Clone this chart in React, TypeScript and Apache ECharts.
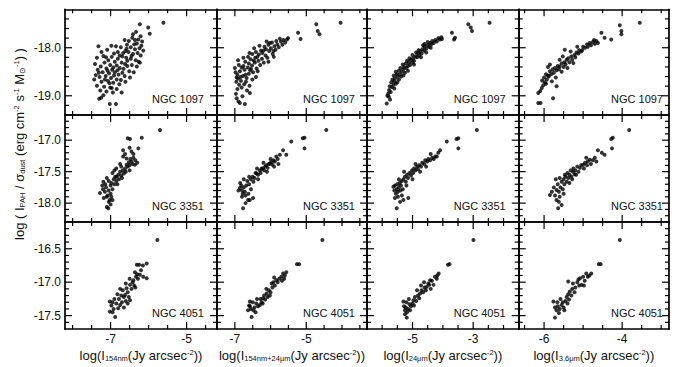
import React, { useEffect, useRef } from 'react';
import * as echarts from 'echarts';

// ---------- data (x = log I_band, y = log(I_PAH/sigma_dust)) ----------
const galaxies = ['NGC 1097', 'NGC 3351', 'NGC 4051'];

const n1097_fuv: number[][] = [
  [-5.61,-17.48],[-6.01,-17.58],[-5.97,-17.71],[-6.23,-17.51],
  [-6.33,-17.67],[-6.21,-17.76],[-6.27,-17.83],[-6.17,-17.87],[-6.43,-17.79],[-6.31,-17.91],[-6.19,-17.96],[-6.38,-17.93],[-6.52,-17.86],[-6.24,-18.01],[-6.14,-18.06],[-6.36,-18.03],[-6.47,-17.99],[-6.57,-17.94],[-6.61,-18.07],[-6.29,-18.11],[-6.41,-18.13],[-6.53,-18.09],[-6.67,-18.11],[-6.21,-18.16],[-6.73,-17.99],[-6.86,-17.97],[-6.91,-18.12],[-6.76,-18.16],[-6.59,-18.21],[-6.47,-18.23],[-6.34,-18.26],[-6.26,-18.29],[-6.81,-18.23],[-6.97,-18.19],[-7.06,-18.26],[-7.16,-18.31],[-6.89,-18.29],[-6.71,-18.31],[-6.62,-18.34],[-6.44,-18.36],[-6.31,-18.39],[-7.01,-18.36],[-6.84,-18.37],[-6.76,-18.42],[-7.11,-18.43],[-7.26,-18.39],[-6.96,-18.46],[-6.66,-18.44],[-6.51,-18.49],[-6.39,-18.51],[-7.34,-18.46],[-7.21,-18.51],[-7.04,-18.53],[-6.89,-18.51],[-6.79,-18.56],[-6.63,-18.59],[-6.49,-18.62],[-7.39,-18.57],[-7.29,-18.61],[-7.13,-18.59],[-6.99,-18.63],[-6.84,-18.66],[-6.73,-18.67],[-7.43,-18.66],[-7.24,-18.71],[-7.07,-18.69],[-6.93,-18.73],[-6.77,-18.76],[-6.61,-18.71],[-7.36,-18.79],[-7.17,-18.81],[-7.01,-18.83],[-6.84,-18.86],[-7.27,-18.89],[-7.11,-18.91],[-6.94,-18.93],[-6.71,-18.93],[-7.19,-18.99],[-7.3,-19.06],[-7.25,-19.04],[-7.02,-19.17],[-6.86,-19.17],[-7.41,-18.34],[-7.36,-18.21],[-7.24,-18.09],[-7.09,-18.04],[-6.98,-17.96],[-7.32,-17.97],[-7.19,-18.17],[-6.63,-17.84],[-6.41,-17.72],[-6.56,-18.38],[-6.97,-18.84],[-6.23,-18.31],
  [-7.08,-18.48],[-6.93,-18.41],[-6.82,-18.47],[-6.69,-18.52],[-7.15,-18.66],[-6.91,-18.58],[-6.56,-18.27],[-6.69,-18.18],[-6.45,-18.17],[-6.81,-18.09],[-7.03,-18.74],[-7.31,-18.52],[-6.58,-18.02],[-6.36,-17.84],[-7.12,-18.2]
];
const n1097_fuv24: number[][] = [
  [-6.95,-19.05],[-6.86,-19.15],[-6.72,-19.17],[-6.58,-18.94],[-6.97,-18.96],[-6.93,-18.86],[-6.88,-18.77],[-6.96,-18.71],[-6.81,-18.83],[-6.74,-18.76],[-6.91,-18.64],[-6.83,-18.69],[-6.69,-18.71],[-7.0,-18.42],[-6.98,-18.51],[-6.93,-18.56],[-6.86,-18.49],[-6.77,-18.59],[-6.67,-18.63],[-6.61,-18.54],[-6.73,-18.46],[-6.81,-18.41],[-6.89,-18.36],[-6.64,-18.41],[-6.57,-18.47],[-6.52,-18.37],[-6.61,-18.33],[-6.71,-18.29],[-6.49,-18.51],[-6.44,-18.31],[-6.39,-18.43],[-6.34,-18.27],[-6.29,-18.36],[-6.43,-18.21],[-6.56,-18.24],[-6.63,-18.19],[-6.24,-18.23],[-6.19,-18.31],[-6.14,-18.16],[-6.33,-18.14],[-6.41,-18.09],[-6.51,-18.13],[-6.23,-18.11],[-6.09,-18.21],[-6.04,-18.07],[-6.13,-18.03],[-6.27,-18.06],[-5.99,-18.01],[-5.94,-18.13],[-5.89,-17.97],[-6.06,-17.94],[-6.17,-17.98],[-5.86,-18.04],[-5.81,-17.93],[-5.96,-17.89],[-5.77,-17.99],[-5.71,-17.87],[-5.67,-17.94],[-5.84,-17.86],[-5.64,-17.84],[-5.59,-17.89],[-5.54,-17.83],[-5.74,-17.81],[-6.11,-17.87],[-6.31,-17.96],[-6.46,-18.01],[-6.59,-18.11],[-6.76,-18.21],[-6.91,-18.26],[-6.06,-18.29],[-5.91,-18.19],[-6.36,-18.49],[-6.51,-18.66],[-6.59,-18.79],[-6.66,-18.89],[-6.79,-19.01],[-6.41,-18.61],[-6.9,-19.12],
  [-6.84,-18.61],[-6.7,-18.56],[-6.55,-18.44],[-6.47,-18.27],[-6.37,-18.19],[-6.2,-18.06],[-6.02,-17.9],[-5.92,-18.07],[-6.76,-18.38],[-6.95,-18.62],
  [-5.51,-17.8],[-5.23,-17.69],[-5.16,-17.82],[-4.72,-17.51],[-4.68,-17.65],[-4.63,-17.72],[-4.04,-17.48]
];
const n1097_24: number[][] = [
  [-5.85,-19.16],[-5.74,-19.08],[-5.8,-18.95],[-5.83,-19.0],[-5.77,-18.88],[-5.72,-18.92],[-5.68,-18.82],[-5.63,-18.77],[-5.7,-18.72],[-5.6,-18.7],[-5.55,-18.75],[-5.58,-18.64],[-5.5,-18.6],[-5.45,-18.66],[-5.52,-18.55],[-5.42,-18.55],[-5.38,-18.6],[-5.35,-18.5],[-5.45,-18.48],[-5.3,-18.45],[-5.25,-18.52],[-5.28,-18.4],[-5.2,-18.42],[-5.15,-18.38],[-5.22,-18.33],[-5.12,-18.3],[-5.08,-18.36],[-5.05,-18.25],[-5.0,-18.3],[-4.98,-18.22],[-4.95,-18.27],[-4.9,-18.18],[-5.1,-18.22],[-4.85,-18.2],[-4.82,-18.12],[-4.78,-18.16],[-4.75,-18.08],[-4.7,-18.12],[-4.68,-18.03],[-4.62,-18.06],[-4.6,-17.98],[-4.55,-18.02],[-4.5,-17.95],[-4.45,-17.98],[-4.42,-17.9],[-4.38,-17.93],[-4.35,-17.86],[-4.3,-17.9],[-4.25,-17.84],[-4.2,-17.87],[-4.15,-17.8],[-4.1,-17.83],[-4.05,-17.78],[-4.03,-17.82],[-4.5,-17.88],[-4.65,-17.95],[-4.8,-18.05],[-4.88,-18.1],[-5.0,-18.15],[-5.18,-18.27],[-5.32,-18.35],[-5.4,-18.42],[-5.55,-18.5],[-5.62,-18.58],[-5.66,-18.66],[-5.75,-18.8],[-5.78,-19.02],[-5.6,-18.85],[-5.5,-18.72],[-5.3,-18.58],[-5.15,-18.48],[-4.95,-18.35],[-4.72,-18.2],[-4.55,-18.1],[-4.4,-18.0],[-4.6,-17.92],
  [-3.7,-17.69],[-3.6,-17.79],[-3.63,-17.83],[-3.16,-17.51],[-3.08,-17.58],[-3.04,-17.65],[-2.46,-17.48]
];
const n1097_36: number[][] = [
  [-6.15,-19.15],[-6.09,-19.15],[-6.15,-18.94],[-6.06,-18.84],[-6.1,-18.9],[-6.02,-18.78],[-5.98,-18.72],[-5.93,-18.66],[-6.0,-18.62],[-5.9,-18.58],[-5.95,-18.55],[-5.85,-18.49],[-5.88,-18.6],[-5.82,-18.55],[-5.78,-18.45],[-5.75,-18.52],[-5.72,-18.42],[-5.68,-18.47],[-5.65,-18.38],[-5.6,-18.39],[-5.62,-18.45],[-5.55,-18.33],[-5.5,-18.4],[-5.48,-18.3],[-5.42,-18.25],[-5.45,-18.35],[-5.38,-18.22],[-5.35,-18.3],[-5.3,-18.18],[-5.28,-18.25],[-5.22,-18.15],[-5.17,-18.1],[-5.2,-18.2],[-5.12,-18.12],[-5.1,-18.05],[-5.05,-18.08],[-5.0,-17.98],[-5.02,-18.05],[-4.95,-18.0],[-4.9,-17.93],[-4.88,-17.98],[-4.83,-17.9],[-4.8,-17.95],[-4.75,-17.88],[-4.7,-17.92],[-4.66,-17.86],[-4.62,-17.9],[-4.72,-17.84],[-5.47,-18.04],[-5.77,-19.05],[-5.68,-18.8],[-5.8,-18.7],[-5.7,-18.62],[-5.55,-18.5],[-5.4,-18.42],[-5.25,-18.32],[-5.9,-18.4],[-5.6,-18.25],[-5.15,-17.98],[-5.32,-18.08],[-5.52,-18.18],[-5.95,-18.75],[-6.05,-18.68],[-5.85,-18.35],
  [-4.53,-17.69],[-4.45,-17.79],[-4.28,-17.83],[-4.06,-17.53],[-4.02,-17.65],[-4.02,-17.72],[-3.55,-17.48]
];

const n3351_fuv: number[][] = [
  [-7.28,-17.84],[-7.1,-18.06],[-7.06,-18.08],[-7.02,-17.95],[-7.19,-17.66],[-7.2,-17.78],[-7.15,-17.82],[-7.12,-17.75],[-7.08,-17.88],[-7.05,-17.8],[-7.0,-17.85],[-7.1,-17.9],[-7.18,-17.92],[-7.0,-17.72],[-6.95,-17.78],[-6.98,-17.68],[-6.92,-17.62],[-6.9,-17.7],[-7.05,-17.65],[-6.88,-17.58],[-6.84,-17.58],[-6.85,-17.65],[-6.8,-17.55],[-6.78,-17.62],[-6.75,-17.5],[-6.72,-17.56],[-6.7,-17.6],[-6.68,-17.48],[-6.65,-17.53],[-6.62,-17.45],[-6.6,-17.5],[-6.58,-17.39],[-6.58,-17.29],[-6.55,-17.42],[-6.52,-17.35],[-6.5,-17.4],[-6.48,-17.3],[-6.45,-17.34],[-6.42,-17.38],[-6.4,-17.28],[-6.36,-17.39],[-6.35,-17.32],[-6.67,-17.26],[-6.67,-17.16],[-6.62,-17.22],[-6.3,-17.36],[-6.27,-17.13],[-6.49,-16.98],[-6.55,-16.97],[-6.18,-16.96],[-5.7,-16.84],[-6.95,-17.52],[-6.82,-17.7],[-6.72,-17.42],[-6.9,-17.48],[-7.14,-17.7],[-6.98,-17.9],[-7.22,-17.72],[-6.85,-17.45],[-6.5,-17.48],[-6.4,-17.22],[-7.1,-17.6],[-7.05,-17.98],[-7.0,-18.02],[-6.95,-17.95],[-6.75,-17.38],[-6.5,-17.12],[-6.45,-17.18]
];
const n3351_fuv24: number[][] = [
  [-6.86,-17.76],[-6.82,-17.72],[-6.8,-17.8],[-6.78,-17.85],[-6.75,-17.75],[-6.72,-17.82],[-6.7,-17.88],[-6.68,-17.72],[-6.85,-17.68],[-6.9,-17.8],[-6.77,-18.08],[-6.63,-17.95],[-6.58,-17.95],[-6.49,-17.92],[-6.7,-18.0],[-6.65,-17.65],[-6.6,-17.7],[-6.55,-17.62],[-6.5,-17.58],[-6.45,-17.6],[-6.42,-17.52],[-6.39,-17.53],[-6.35,-17.55],[-6.3,-17.48],[-6.28,-17.52],[-6.25,-17.45],[-6.21,-17.45],[-6.18,-17.48],[-6.15,-17.42],[-6.12,-17.4],[-6.08,-17.44],[-6.05,-17.38],[-6.02,-17.37],[-5.98,-17.35],[-5.95,-17.39],[-5.92,-17.32],[-5.88,-17.34],[-5.84,-17.26],[-5.8,-17.3],[-5.74,-17.23],[-5.65,-17.16],[-5.56,-17.23],[-5.42,-17.02],[-5.05,-16.96],[-5.1,-16.97],[-5.05,-17.13],[-4.44,-16.84],[-6.6,-17.58],[-6.48,-17.66],[-6.38,-17.45],[-6.2,-17.36],[-6.1,-17.5],[-6.0,-17.3],[-6.55,-17.78],[-6.62,-17.85],[-6.75,-17.62],[-6.8,-17.9],[-6.35,-17.62],[-5.9,-17.42],[-5.78,-17.38]
];
const n3351_24: number[][] = [
  [-5.63,-17.74],[-5.6,-17.8],[-5.58,-17.72],[-5.55,-17.85],[-5.52,-17.78],[-5.5,-17.7],[-5.48,-17.82],[-5.45,-17.75],[-5.42,-17.68],[-5.4,-17.8],[-5.38,-17.72],[-5.35,-17.65],[-5.32,-17.78],[-5.52,-18.08],[-5.41,-17.98],[-5.3,-17.95],[-5.14,-17.92],[-5.3,-17.62],[-5.25,-17.58],[-5.22,-17.66],[-5.18,-17.55],[-5.15,-17.6],[-5.1,-17.52],[-5.05,-17.56],[-5.02,-17.48],[-4.98,-17.52],[-4.95,-17.45],[-4.9,-17.48],[-4.85,-17.42],[-4.82,-17.46],[-4.78,-17.4],[-4.72,-17.42],[-4.68,-17.36],[-4.62,-17.38],[-4.58,-17.32],[-4.52,-17.34],[-4.48,-17.3],[-4.42,-17.32],[-4.35,-17.28],[-4.3,-17.3],[-4.25,-17.26],[-4.2,-17.26],[-4.09,-17.16],[-4.15,-17.2],[-3.87,-17.02],[-3.49,-16.97],[-3.55,-16.98],[-3.49,-17.13],[-2.88,-16.84],[-5.45,-17.62],[-5.35,-17.88],[-5.2,-17.72],[-5.0,-17.62],[-4.9,-17.38],[-4.75,-17.5],[-4.55,-17.42],[-5.58,-17.92],[-5.48,-17.9],[-5.28,-17.5],[-4.4,-17.22]
];
const n3351_36: number[][] = [
  [-5.85,-17.87],[-5.68,-17.95],[-5.64,-18.08],[-5.55,-18.03],[-5.68,-17.79],[-5.6,-17.6],[-5.47,-17.55],[-5.26,-17.5],[-5.0,-17.39],[-4.83,-17.31],[-4.66,-17.34],[-4.62,-17.16],[-4.45,-17.23],[-4.24,-16.96],[-4.28,-16.98],[-4.26,-17.13],[-3.82,-16.84],[-5.8,-17.82],[-5.75,-17.75],[-5.72,-17.88],[-5.65,-17.7],[-5.62,-17.82],[-5.58,-17.75],[-5.55,-17.66],[-5.52,-17.78],[-5.5,-17.62],[-5.48,-17.7],[-5.45,-17.58],[-5.42,-17.66],[-5.4,-17.52],[-5.38,-17.6],[-5.35,-17.55],[-5.32,-17.48],[-5.3,-17.58],[-5.25,-17.45],[-5.22,-17.54],[-5.2,-17.48],[-5.15,-17.42],[-5.12,-17.5],[-5.08,-17.44],[-5.05,-17.4],[-4.98,-17.45],[-4.95,-17.36],[-4.9,-17.4],[-4.88,-17.34],[-4.8,-17.38],[-4.75,-17.32],[-4.7,-17.28],[-5.7,-17.62],[-5.6,-17.9],[-5.5,-17.85],[-5.35,-17.68],[-5.28,-17.62],[-5.18,-17.55],[-4.92,-17.28],[-5.62,-17.98],[-4.52,-17.2]
];

const n4051_fuv: number[][] = [
  [-5.77,-16.37],[-7.02,-17.29],[-7.02,-17.44],[-6.88,-17.52],[-6.95,-17.3],[-6.92,-17.4],[-6.85,-17.32],[-6.8,-17.39],[-6.75,-17.34],[-6.78,-17.25],[-6.7,-17.3],[-6.72,-17.2],[-6.65,-17.22],[-6.62,-17.19],[-6.6,-17.28],[-6.58,-17.09],[-6.55,-17.15],[-6.52,-17.22],[-6.49,-17.04],[-6.49,-17.27],[-6.45,-17.1],[-6.42,-17.0],[-6.4,-16.97],[-6.38,-17.05],[-6.36,-16.85],[-6.33,-16.92],[-6.31,-16.74],[-6.25,-16.74],[-6.15,-16.75],[-6.05,-16.72],[-6.23,-16.89],[-6.2,-16.82],[-6.14,-16.92],[-6.05,-16.94],[-6.28,-16.95],[-6.3,-16.88],[-6.65,-17.38],[-6.68,-17.12],[-6.98,-17.35],[-6.9,-17.25],[-6.82,-17.18],[-6.55,-17.32],[-6.35,-17.08],[-6.5,-16.95],[-6.6,-17.02],[-6.75,-17.1],[-6.95,-17.45]
];
const n4051_fuv24: number[][] = [
  [-4.55,-16.37],[-5.26,-16.73],[-5.2,-16.73],[-6.63,-17.42],[-6.53,-17.52],[-6.58,-17.29],[-6.6,-17.35],[-6.55,-17.4],[-6.5,-17.3],[-6.45,-17.38],[-6.4,-17.32],[-6.35,-17.36],[-6.3,-17.34],[-6.28,-17.25],[-6.25,-17.3],[-6.21,-17.24],[-6.18,-17.2],[-6.15,-17.26],[-6.11,-17.17],[-6.08,-17.22],[-6.05,-17.12],[-6.0,-17.15],[-5.97,-17.02],[-5.95,-17.08],[-5.92,-17.0],[-5.88,-17.05],[-5.84,-16.97],[-5.8,-17.0],[-5.76,-16.95],[-5.7,-16.92],[-5.68,-16.98],[-5.65,-16.87],[-5.6,-16.9],[-5.56,-16.85],[-5.62,-16.95],[-6.48,-17.42],[-6.38,-17.25],[-6.22,-17.32],[-6.12,-17.1],[-6.02,-17.2],[-5.9,-16.93],[-6.42,-17.45],[-6.58,-17.36]
];
const n4051_24: number[][] = [
  [-2.99,-16.37],[-3.78,-16.73],[-3.83,-16.74],[-5.25,-17.42],[-5.19,-17.53],[-5.3,-17.29],[-5.28,-17.36],[-5.22,-17.38],[-5.2,-17.3],[-5.15,-17.4],[-5.1,-17.33],[-5.05,-17.36],[-4.97,-17.27],[-5.0,-17.32],[-4.92,-17.22],[-4.88,-17.28],[-4.82,-17.2],[-4.75,-17.17],[-4.78,-17.24],[-4.7,-17.12],[-4.65,-17.15],[-4.6,-17.08],[-4.53,-17.07],[-4.56,-17.12],[-4.48,-17.02],[-4.42,-16.97],[-4.45,-17.04],[-4.36,-16.98],[-4.31,-17.04],[-4.26,-16.92],[-4.2,-16.95],[-4.14,-16.87],[-4.18,-16.9],[-5.18,-17.45],[-5.08,-17.42],[-4.95,-17.35],[-4.85,-17.12],[-4.62,-17.0],[-4.4,-17.1],[-5.12,-17.25],[-4.72,-17.05],[-5.25,-17.48]
];
const n4051_36: number[][] = [
  [-4.06,-16.37],[-4.6,-16.73],[-4.55,-16.73],[-5.72,-17.53],[-5.76,-17.29],[-5.68,-17.42],[-5.72,-17.38],[-5.65,-17.36],[-5.6,-17.4],[-5.55,-17.34],[-5.52,-17.3],[-5.5,-17.38],[-5.45,-17.28],[-5.42,-17.22],[-5.4,-17.32],[-5.38,-17.18],[-5.34,-17.14],[-5.3,-17.2],[-5.28,-17.1],[-5.38,-16.99],[-5.26,-17.02],[-5.2,-17.08],[-5.15,-17.0],[-5.1,-17.05],[-5.04,-17.04],[-5.08,-16.94],[-5.0,-16.92],[-4.96,-16.98],[-4.92,-16.87],[-4.88,-16.92],[-4.84,-16.9],[-4.79,-16.87],[-5.62,-17.46],[-5.58,-17.25],[-5.48,-17.42],[-5.36,-17.26],[-5.22,-17.15],[-5.12,-16.96],[-4.98,-17.05],[-5.66,-17.3]
];

const panelData: number[][][][] = [
  [n1097_fuv, n1097_fuv24, n1097_24, n1097_36],
  [n3351_fuv, n3351_fuv24, n3351_24, n3351_36],
  [n4051_fuv, n4051_fuv24, n4051_24, n4051_36],
];

// axis ranges & tick labels
const colRanges = [[-8.2, -4.2], [-7.5, -3.3], [-6.5, -1.5], [-6.65, -2.8]];
const colMajor = [[-7, -5], [-7, -5], [-5, -3], [-6, -4]];
const colMinorStep = 0.5;
const rowRanges = [[-19.4, -17.2], [-18.3, -16.6], [-17.7, -16.1]];
const rowMajor = [[-19, -18], [-18, -17.5, -17], [-17.5, -17, -16.5]];
const rowMinorStep = [0.2, 0.1, 0.1];

// ---------- layout ----------
const colLeft = [65, 217, 367, 518.7];
const colRight = [217, 367, 518.7, 669];
const rowTop = [9.3, 115, 222];
const rowBottom = [115, 222, 329];
const FONT = '"Liberation Sans", Arial, Helvetica, sans-serif';
const INK = '#111';
const MAJOR_LEN = 7;
const MINOR_LEN = 4;

function minorTicks(min: number, max: number, step: number, major: number[]) {
  const out: number[] = [];
  const start = Math.ceil(min / step - 1e-9);
  const end = Math.floor(max / step + 1e-9);
  for (let k = start; k <= end; k++) {
    const v = Math.round(k * step * 1000) / 1000;
    if (v <= min + 1e-6 || v >= max - 1e-6) continue;
    if (!major.some((m) => Math.abs(m - v) < 1e-6)) out.push(v);
  }
  return out;
}

const rich = {
  n: { fontSize: 13, fontFamily: FONT, fill: INK, color: INK, lineHeight: 14 },
  sub: { fontSize: 7.5, fontFamily: FONT, fill: INK, color: INK, lineHeight: 8, verticalAlign: 'bottom' },
  sup: { fontSize: 7.5, fontFamily: FONT, fill: INK, color: INK, lineHeight: 8, verticalAlign: 'top' },
};
const xTitles = [
  '{n|log(I}{sub|154nm}{n|(Jy arcsec}{sup|-2}{n|))}',
  '{n|log(I}{sub|154nm+24μm}{n|(Jy arcsec}{sup|-2}{n|))}',
  '{n|log(I}{sub|24μm}{n|(Jy arcsec}{sup|-2}{n|))}',
  '{n|log(I}{sub|3.6μm}{n|(Jy arcsec}{sup|-2}{n|))}',
];
const yTitle = '{n|log ( I}{sub|PAH}{n| / σ}{sub|dust}{n| (erg cm}{sup|-2}{n| s}{sup|-1}{n| M}{sub|⊙}{sup|-1}{n|) )}';

function buildOption() {
  const grid: any[] = [];
  const xAxis: any[] = [];
  const yAxis: any[] = [];
  const series: any[] = [];
  const lineStyle = { color: '#000', width: 1.7 };

  for (let r = 0; r < 3; r++) {
    for (let c = 0; c < 4; c++) {
      const gi = grid.length;
      grid.push({
        left: colLeft[c], top: rowTop[r],
        width: colRight[c] - colLeft[c], height: rowBottom[r] - rowTop[r],
      });
      const [xmin, xmax] = colRanges[c];
      const [ymin, ymax] = rowRanges[r];
      const mk = (pos: string, isX: boolean, min: number, max: number, showLabel: boolean, labelVals: number[]) => ({
        type: 'value', gridIndex: gi, position: pos, min, max,
        splitLine: { show: false },
        axisLine: { show: true, onZero: false, lineStyle },
        axisTick: { show: false },
        axisLabel: showLabel ? {
          show: true, customValues: labelVals, color: INK, fontSize: 12, fontFamily: FONT,
          margin: 4,
          formatter: (v: number) => (isX ? String(v) : v.toFixed(1)),
        } : { show: false },
      });
      const xi = xAxis.length;
      xAxis.push(mk('bottom', true, xmin, xmax, r === 2, colMajor[c]));
      xAxis.push(mk('top', true, xmin, xmax, false, []));
      const yi = yAxis.length;
      yAxis.push(mk('left', false, ymin, ymax, c === 0, rowMajor[r]));
      yAxis.push(mk('right', false, ymin, ymax, false, []));

      series.push({
        type: 'scatter', xAxisIndex: xi, yAxisIndex: yi,
        data: panelData[r][c], symbol: 'circle', symbolSize: 4,
        itemStyle: { color: '#000' }, silent: true,
      });
    }
  }
  return { animation: false, backgroundColor: '#fff', grid, xAxis, yAxis, series };
}

function buildGraphics(chart: echarts.ECharts) {
  const g: any[] = [];
  const tickStyle = { stroke: '#000', lineWidth: 1.2 };
  let gi = 0;
  for (let r = 0; r < 3; r++) {
    for (let c = 0; c < 4; c++, gi++) {
      const top = rowTop[r], bottom = rowBottom[r], left = colLeft[c], right = colRight[c];
      const [xmin, xmax] = colRanges[c];
      const [ymin, ymax] = rowRanges[r];
      const xTicks = [
        ...colMajor[c].map((v) => [v, MAJOR_LEN]),
        ...minorTicks(xmin, xmax, colMinorStep, colMajor[c]).map((v) => [v, MINOR_LEN]),
      ];
      const yTicks = [
        ...rowMajor[r].map((v) => [v, MAJOR_LEN]),
        ...minorTicks(ymin, ymax, rowMinorStep[r], rowMajor[r]).map((v) => [v, MINOR_LEN]),
      ];
      for (const [v, len] of xTicks) {
        const px = chart.convertToPixel({ xAxisIndex: gi * 2 }, v) as number;
        g.push({ type: 'line', silent: true, shape: { x1: px, y1: bottom, x2: px, y2: bottom - len }, style: tickStyle });
        g.push({ type: 'line', silent: true, shape: { x1: px, y1: top, x2: px, y2: top + len }, style: tickStyle });
      }
      for (const [v, len] of yTicks) {
        const py = chart.convertToPixel({ yAxisIndex: gi * 2 }, v) as number;
        g.push({ type: 'line', silent: true, shape: { x1: left, y1: py, x2: left + len, y2: py }, style: tickStyle });
        g.push({ type: 'line', silent: true, shape: { x1: right, y1: py, x2: right - len, y2: py }, style: tickStyle });
      }
      const rightPad = [13, 12, 13, 6][c];
      g.push({
        type: 'text', x: right - rightPad, y: bottom - 16, silent: true,
        style: { text: galaxies[r], fill: INK, font: `11px ${FONT}`, align: 'right', verticalAlign: 'middle' },
      });
    }
  }
  for (let c = 0; c < 4; c++) {
    g.push({
      type: 'text', x: (colLeft[c] + colRight[c]) / 2, y: 355, silent: true,
      style: { text: xTitles[c], rich, align: 'center', verticalAlign: 'middle', fill: INK },
    });
  }
  g.push({
    type: 'text', x: 19, y: 144, rotation: Math.PI / 2, silent: true,
    style: { text: yTitle, rich, align: 'center', verticalAlign: 'middle', fill: INK },
  });
  return g;
}

export default function App() {
  const ref = useRef<HTMLDivElement>(null);
  useEffect(() => {
    if (!ref.current) return;
    const chart = echarts.init(ref.current, undefined, { renderer: 'svg' });
    chart.setOption(buildOption() as any);
    chart.setOption({ graphic: buildGraphics(chart) } as any);
    return () => chart.dispose();
  }, []);
  return <div ref={ref} style={{ position: 'absolute', left: 0, top: 0, width: 691, height: 367, background: '#fff' }} />;
}
